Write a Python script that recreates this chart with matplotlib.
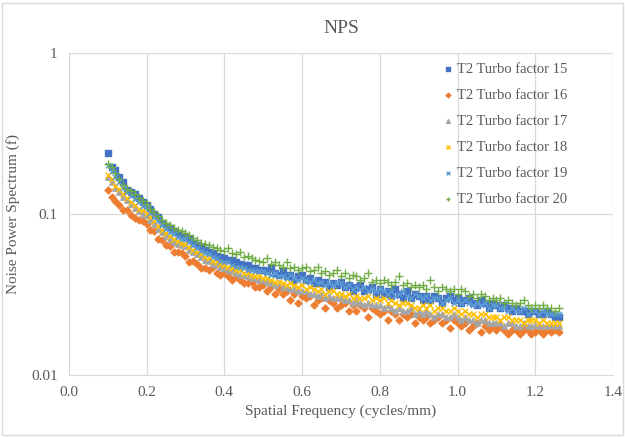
import numpy as np
import matplotlib
matplotlib.use("Agg")
import matplotlib.pyplot as plt
from matplotlib.patches import Rectangle

plt.rcParams['font.family'] = ['Liberation Serif', 'DejaVu Serif']

# 空间频率 (cycles/mm)，间隔 0.01
freq = np.round(np.arange(0.10, 1.265, 0.01), 2)

tf15 = [0.240, 0.196, 0.188, 0.170, 0.158, 0.140, 0.137, 0.133, 0.125, 0.118,
        0.113, 0.108, 0.100, 0.095, 0.088, 0.084, 0.082, 0.078, 0.076, 0.073,
        0.072, 0.070, 0.066, 0.064, 0.062, 0.060, 0.058, 0.057, 0.055, 0.054,
        0.053, 0.052, 0.052, 0.050, 0.049, 0.048, 0.048, 0.046, 0.046, 0.045,
        0.045, 0.044, 0.046, 0.043, 0.042, 0.044, 0.041, 0.042, 0.039, 0.041,
        0.042, 0.039, 0.040, 0.037, 0.039, 0.037, 0.038, 0.035, 0.037, 0.036,
        0.038, 0.035, 0.036, 0.033, 0.035, 0.036, 0.033, 0.034, 0.035, 0.032,
        0.034, 0.032, 0.033, 0.031, 0.034, 0.032, 0.030, 0.033, 0.030, 0.032,
        0.031, 0.029, 0.031, 0.029, 0.031, 0.030, 0.028, 0.030, 0.031, 0.029,
        0.030, 0.028, 0.029, 0.030, 0.028, 0.027, 0.029, 0.028, 0.026, 0.028,
        0.027, 0.026, 0.027, 0.026, 0.025, 0.026, 0.025, 0.025, 0.024, 0.025,
        0.025, 0.024, 0.024, 0.025, 0.024, 0.023, 0.023]

tf16 = [0.140, 0.128, 0.120, 0.113, 0.106, 0.105, 0.099, 0.094, 0.092, 0.090,
        0.086, 0.080, 0.078, 0.070, 0.069, 0.064, 0.063, 0.058, 0.058, 0.057,
        0.055, 0.050, 0.051, 0.049, 0.046, 0.046, 0.045, 0.047, 0.043, 0.042,
        0.043, 0.041, 0.039, 0.041, 0.039, 0.037, 0.037, 0.038, 0.035, 0.035,
        0.036, 0.033, 0.035, 0.032, 0.034, 0.032, 0.033, 0.029, 0.032, 0.028,
        0.031, 0.030, 0.031, 0.027, 0.029, 0.030, 0.026, 0.029, 0.028, 0.026,
        0.027, 0.028, 0.025, 0.027, 0.025, 0.027, 0.026, 0.023, 0.026, 0.025,
        0.024, 0.025, 0.022, 0.025, 0.024, 0.022, 0.024, 0.023, 0.024, 0.021,
        0.023, 0.022, 0.023, 0.021, 0.022, 0.023, 0.021, 0.022, 0.0195, 0.022,
        0.021, 0.020, 0.021, 0.019, 0.020, 0.021, 0.0185, 0.020, 0.019, 0.020,
        0.019, 0.020, 0.019, 0.018, 0.019, 0.019, 0.018, 0.019, 0.019, 0.018,
        0.0185, 0.019, 0.018, 0.019, 0.0185, 0.019, 0.0185]

tf17 = [0.170, 0.158, 0.145, 0.136, 0.128, 0.122, 0.115, 0.109, 0.104, 0.100,
        0.098, 0.092, 0.086, 0.081, 0.077, 0.073, 0.070, 0.067, 0.065, 0.064,
        0.063, 0.060, 0.058, 0.056, 0.054, 0.052, 0.051, 0.049, 0.048, 0.047,
        0.046, 0.045, 0.044, 0.043, 0.042, 0.042, 0.041, 0.040, 0.040, 0.039,
        0.039, 0.038, 0.037, 0.036, 0.037, 0.035, 0.035, 0.034, 0.034, 0.033,
        0.033, 0.033, 0.032, 0.032, 0.031, 0.032, 0.030, 0.031, 0.030, 0.030,
        0.030, 0.029, 0.029, 0.028, 0.029, 0.028, 0.027, 0.028, 0.027, 0.027,
        0.027, 0.026, 0.027, 0.026, 0.025, 0.026, 0.025, 0.025, 0.026, 0.024,
        0.025, 0.024, 0.025, 0.024, 0.023, 0.024, 0.024, 0.023, 0.023, 0.024,
        0.023, 0.022, 0.023, 0.022, 0.022, 0.021, 0.022, 0.022, 0.021, 0.021,
        0.021, 0.021, 0.020, 0.021, 0.021, 0.020, 0.020, 0.021, 0.020, 0.020,
        0.0205, 0.020, 0.020, 0.020, 0.0205, 0.020, 0.020]

tf18 = [0.175, 0.165, 0.150, 0.142, 0.133, 0.125, 0.119, 0.113, 0.108, 0.105,
        0.102, 0.096, 0.090, 0.084, 0.080, 0.076, 0.073, 0.070, 0.068, 0.066,
        0.065, 0.062, 0.060, 0.058, 0.056, 0.054, 0.053, 0.051, 0.050, 0.049,
        0.048, 0.047, 0.046, 0.045, 0.045, 0.043, 0.043, 0.042, 0.041, 0.041,
        0.040, 0.040, 0.039, 0.038, 0.038, 0.037, 0.036, 0.037, 0.036, 0.035,
        0.036, 0.034, 0.035, 0.034, 0.033, 0.034, 0.032, 0.033, 0.033, 0.032,
        0.032, 0.031, 0.032, 0.030, 0.031, 0.030, 0.030, 0.031, 0.029, 0.030,
        0.029, 0.030, 0.028, 0.029, 0.028, 0.027, 0.028, 0.028, 0.027, 0.026,
        0.026, 0.027, 0.026, 0.027, 0.025, 0.026, 0.026, 0.025, 0.025, 0.026,
        0.025, 0.024, 0.025, 0.024, 0.024, 0.023, 0.024, 0.024, 0.023, 0.023,
        0.023, 0.022, 0.023, 0.023, 0.022, 0.022, 0.022, 0.021, 0.022, 0.022,
        0.022, 0.021, 0.022, 0.021, 0.021, 0.021, 0.021]

tf19 = [0.200, 0.185, 0.170, 0.158, 0.145, 0.137, 0.130, 0.124, 0.118, 0.112,
        0.110, 0.101, 0.096, 0.090, 0.085, 0.081, 0.077, 0.075, 0.072, 0.070,
        0.070, 0.067, 0.064, 0.061, 0.059, 0.057, 0.056, 0.054, 0.053, 0.051,
        0.050, 0.050, 0.048, 0.047, 0.047, 0.046, 0.045, 0.045, 0.044, 0.044,
        0.044, 0.043, 0.042, 0.043, 0.041, 0.041, 0.040, 0.042, 0.040, 0.039,
        0.040, 0.039, 0.038, 0.039, 0.037, 0.038, 0.036, 0.037, 0.036, 0.037,
        0.037, 0.035, 0.036, 0.034, 0.035, 0.034, 0.035, 0.033, 0.034, 0.033,
        0.034, 0.033, 0.032, 0.033, 0.031, 0.032, 0.033, 0.031, 0.030, 0.032,
        0.031, 0.030, 0.031, 0.029, 0.030, 0.030, 0.028, 0.029, 0.030, 0.028,
        0.029, 0.028, 0.029, 0.028, 0.027, 0.028, 0.027, 0.028, 0.026, 0.027,
        0.027, 0.026, 0.026, 0.025, 0.026, 0.025, 0.025, 0.026, 0.024, 0.025,
        0.025, 0.024, 0.025, 0.024, 0.024, 0.024, 0.024]

tf20 = [0.205, 0.195, 0.180, 0.165, 0.152, 0.142, 0.138, 0.132, 0.125, 0.120,
        0.115, 0.108, 0.103, 0.097, 0.092, 0.088, 0.085, 0.082, 0.080, 0.078,
        0.076, 0.074, 0.071, 0.069, 0.066, 0.065, 0.064, 0.062, 0.061, 0.060,
        0.059, 0.061, 0.057, 0.056, 0.058, 0.054, 0.055, 0.053, 0.052, 0.051,
        0.050, 0.053, 0.049, 0.050, 0.048, 0.047, 0.050, 0.046, 0.047, 0.045,
        0.046, 0.047, 0.044, 0.045, 0.047, 0.043, 0.044, 0.042, 0.043, 0.045,
        0.041, 0.043, 0.040, 0.042, 0.041, 0.039, 0.040, 0.043, 0.038, 0.039,
        0.037, 0.039, 0.038, 0.036, 0.038, 0.041, 0.036, 0.037, 0.035, 0.036,
        0.035, 0.036, 0.034, 0.039, 0.035, 0.033, 0.035, 0.034, 0.033, 0.034,
        0.032, 0.034, 0.033, 0.031, 0.032, 0.030, 0.032, 0.031, 0.029, 0.030,
        0.029, 0.030, 0.028, 0.029, 0.028, 0.027, 0.028, 0.029, 0.027, 0.026,
        0.027, 0.026, 0.027, 0.026, 0.026, 0.025, 0.026]

labels = ['T2 Turbo factor 15', 'T2 Turbo factor 16', 'T2 Turbo factor 17',
          'T2 Turbo factor 18', 'T2 Turbo factor 19', 'T2 Turbo factor 20']
series = [tf15, tf16, tf17, tf18, tf19, tf20]

# Excel 默认配色和标记
colors = ['#4472C4', '#ED7D31', '#A5A5A5', '#FFC000', '#5B9BD5', '#70AD47']
markers = ['s', 'D', '^', 'x', 'x', '+']
sizes = [18, 12, 15, 18, 14, 26]

fig = plt.figure(figsize=(6.25, 4.37), dpi=100)
ax = fig.add_axes([0.110, 0.142, 0.871, 0.737])

for y, lab, c, m, s in zip(series, labels, colors, markers, sizes):
    ax.scatter(freq, y, marker=m, s=s, color=c, label=lab, linewidths=1.0, zorder=3)

ax.set_yscale('log')
ax.set_xlim(0, 1.4)
ax.set_ylim(0.01, 1)
ax.set_xticks(np.arange(0, 1.41, 0.2))
ax.set_xticklabels([f'{v:.1f}' for v in np.arange(0, 1.41, 0.2)])
ax.set_yticks([0.01, 0.1, 1])
ax.set_yticklabels(['0.01', '0.1', '1'])
ax.minorticks_off()
ax.grid(True, color='#D9D9D9', linewidth=0.9, zorder=0)
ax.set_axisbelow(True)
for sp in ['top', 'right', 'left']:
    ax.spines[sp].set_visible(False)
ax.spines['bottom'].set_color('#D9D9D9')
ax.tick_params(length=0, labelsize=11, colors='#595959', pad=8)

ax.set_xlabel('Spatial Frequency (cycles/mm)', fontsize=11, color='#595959', labelpad=4)
ax.set_ylabel('Noise Power Spectrum (f)', fontsize=11, color='#595959', labelpad=8)
ax.set_title('NPS', fontsize=14, color='#595959', pad=14)

ax.legend(loc='upper right', bbox_to_anchor=(0.94, 1.01), frameon=False, fontsize=10.5,
          labelcolor='#595959', handletextpad=0.1, markerscale=0.7,
          labelspacing=0.88, handlelength=1.0)

# 图表外框
fig.patches.append(Rectangle((0.003, 0.005), 0.994, 0.988, transform=fig.transFigure,
                             fill=False, edgecolor='#D9D9D9', linewidth=1.0))

fig.savefig('out.png', dpi=100)
